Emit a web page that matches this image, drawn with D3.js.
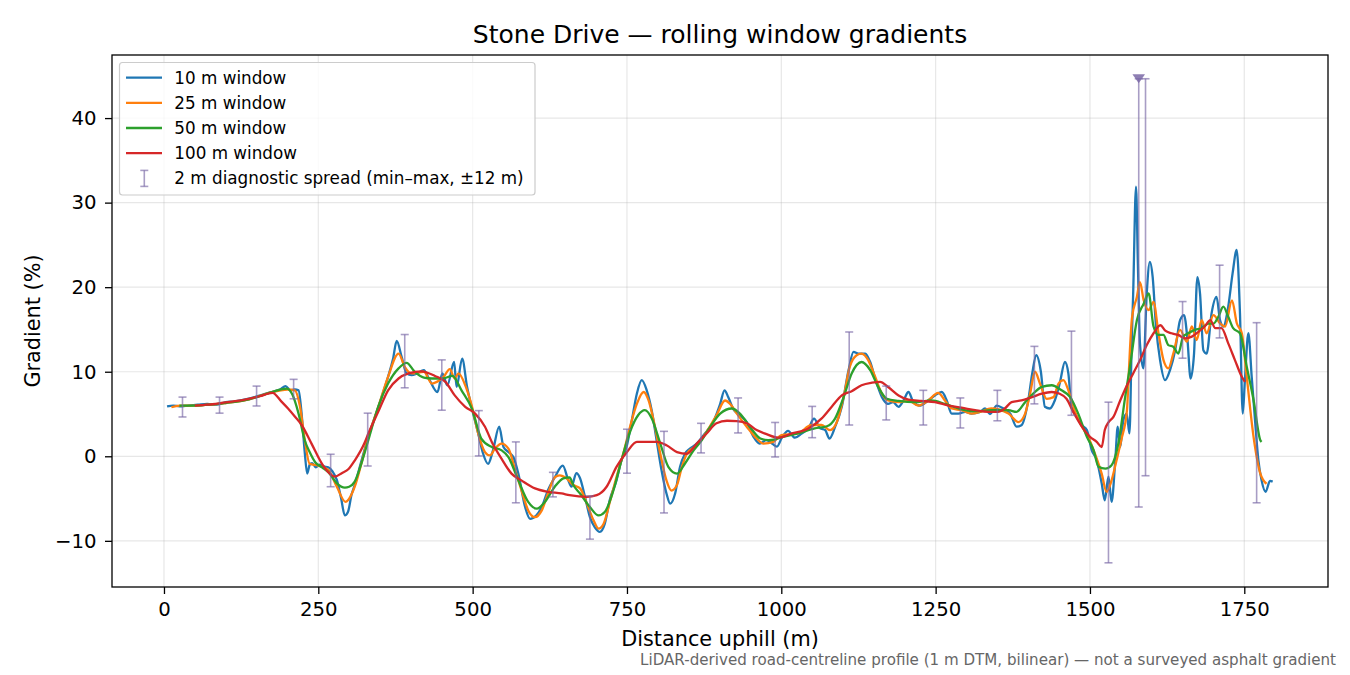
<!DOCTYPE html>
<html lang="en">
<head>
<meta charset="utf-8">
<title>Stone Drive — rolling window gradients</title>
<script src="https://cdn.jsdelivr.net/npm/d3@7"></script>
<style>
body { margin: 0; background: #fff; }
svg { display: block; font-family: "DejaVu Sans", sans-serif; }
</style>
</head>
<body>
<svg id="chart" width="1350" height="675"></svg>
<script>
// [distance (m), gradient (%)] for each rolling window
var win10 = [[5,5.9],[15,6.0],[25,5.9],[40,6.0],[55,6.1],[70,6.2],[85,6.1],[100,6.4],[115,6.5],[130,6.7],
  [147,7.0],[160,7.3],[174,7.6],[188,7.9],[197,8.3],[205,7.8],[212,7.9],[218,7.8],[223,5.0],[228,0.5],
  [232,-2.05],[236,-1.0],[240,-0.8],[246,-1.3],[252,-1.0],[259,-1.2],[266,-1.3],[273,-1.8],[280,-2.8],[287,-5.0],
  [293,-7.0],[298,-6.6],[304,-4.5],[309,-3.4],[320,-0.5],[331,2.3],[347,5.8],[363,9.4],[371,11.5],[377,13.65],
  [385,11.75],[393,9.8],[401,9.6],[410,9.8],[421,10.2],[429,9.2],[443,7.6],[451,9.8],[459,8.4],[470,11.15],
  [474,8.2],[483,11.55],[491,8.2],[499,5.6],[509,2.7],[517,0.3],[525,-0.9],[533,0.7],[543,3.5],[550,1.1],
  [558,0.5],[566,-0.1],[574,-2.05],[585,-6.0],[593,-7.4],[603,-7.0],[612,-6.0],[622,-4.0],[633,-2.5],[646,-1.1],
  [655,-2.85],[660,-3.6],[668,-2.0],[674,-2.6],[682,-4.8],[690,-7.2],[698,-8.4],[706,-8.95],[714,-8.0],[722,-5.2],
  [733,-2.85],[741,-0.5],[750,1.3],[758,4.3],[766,7.4],[774,9.0],[782,7.8],[790,5.45],[798,1.9],[806,-1.65],
  [814,-4.4],[820,-5.6],[828,-4.4],[836,-1.25],[844,0.3],[852,0.9],[863,1.5],[874,2.5],[890,4.1],[901,6.2],
  [908,7.8],[914,7.0],[922,5.6],[933,4.85],[944,4.05],[955,2.3],[965,1.5],[976,1.9],[986,1.45],[993,1.15],
  [1001,2.2],[1011,3.0],[1022,2.2],[1033,2.7],[1044,3.3],[1053,4.45],[1063,3.3],[1071,3.1],[1078,2.1],[1087,3.45],
  [1098,5.85],[1109,10.2],[1117,12.35],[1125,12.15],[1136,12.15],[1144,11.15],[1152,9.2],[1163,7.0],[1173,6.2],[1181,6.4],
  [1190,5.85],[1198,6.6],[1206,7.6],[1214,6.4],[1225,6.0],[1238,6.6],[1249,7.2],[1260,7.6],[1268,6.6],[1276,5.05],
  [1287,5.05],[1298,5.25],[1308,5.05],[1322,5.25],[1330,5.65],[1338,5.0],[1349,6.0],[1360,5.65],[1371,5.05],[1381,3.5],
  [1389,3.67],[1400,6.6],[1406.5,9.8],[1413,11.95],[1420.5,10.0],[1427,5.85],[1435,5.65],[1443,6.6],[1451,8.6],[1459.5,11.15],
  [1465,9.8],[1470,5.85],[1478.5,4.65],[1487,3.67],[1495,3.1],[1503,0.7],[1511,-0.45],[1519,-3.2],[1524,-5.2],[1530,-2.4],
  [1535,-5.4],[1541,-0.5],[1545,3.5],[1549,1.1],[1554,4.25],[1559.5,5.05],[1564,2.7],[1567.6,13.35],[1570,19.25],[1574.6,31.9],
  [1577.5,23.2],[1581,13.35],[1586.5,10.4],[1592,19.25],[1597,23.0],[1601.6,21.2],[1607,15.35],[1613.5,11.4],[1621.6,9.0],[1629.7,10.2],
  [1638,12.55],[1646,16.1],[1652.4,16.7],[1658,13.75],[1663,9.2],[1668.6,12.15],[1674,21.2],[1678.3,19.25],[1683.7,12.55],[1689,12.15],
  [1697,16.9],[1705,18.85],[1710.7,16.1],[1716,15.35],[1724,17.7],[1731,21.6],[1737.7,24.4],[1743,16.9],[1747.5,5.05],[1751,9.0],
  [1756.6,14.55],[1762,9.4],[1767.4,4.25],[1772.8,-0.45],[1778,-2.85],[1784.6,-4.2],[1791.6,-2.9],[1796,-3.0]];

var win25 = [[12,5.8],[25,6.0],[50,6.0],[75,6.1],[100,6.3],[130,6.6],[150,7.0],[175,7.6],[200,7.9],[212,7.8],
  [220,6.0],[228,2.0],[236,-0.9],[250,-1.1],[266,-1.6],[280,-3.6],[294,-5.4],[300,-5.0],[309,-3.6],[320,-0.8],
  [331,2.3],[347,5.8],[363,9.4],[380,12.15],[390,10.57],[401,9.8],[421,10.0],[434,8.6],[442,8.8],[453,9.4],
  [463,10.3],[471,9.2],[477,9.8],[489,8.2],[499,5.85],[509,2.7],[520,0.5],[528,0.1],[536,0.9],[547,1.5],
  [558,0.9],[569,-1.65],[579,-4.0],[590,-6.4],[601,-7.2],[612,-6.4],[622,-4.4],[633,-2.5],[641,-2.25],[652,-2.6],
  [663,-3.4],[674,-3.8],[685,-5.6],[696,-7.6],[704,-8.55],[712,-8.0],[723,-5.2],[733,-2.45],[744,0.3],[755,3.5],
  [766,6.2],[777,7.6],[785,6.6],[793,4.3],[804,0.3],[814,-2.85],[822,-4.05],[831,-3.4],[839,-1.25],[847,0.3],
  [863,1.3],[879,2.9],[895,4.85],[909,6.6],[917,6.2],[928,5.05],[944,3.5],[960,2.1],[971,1.5],[987,1.7],
  [1000,2.5],[1027,2.7],[1049,3.7],[1065,3.7],[1079,3.1],[1090,4.05],[1101,7.0],[1111,10.6],[1122,11.95],[1130,12.15],
  [1141,11.35],[1152,9.4],[1163,7.4],[1173,6.6],[1190,6.4],[1206,6.6],[1222,6.0],[1238,6.6],[1254,7.5],[1265,6.6],
  [1276,5.65],[1292,5.45],[1308,5.05],[1322,5.25],[1340,5.65],[1368,5.05],[1384,4.05],[1395,5.05],[1403,7.4],[1411,10.0],
  [1419,8.6],[1430,6.8],[1441,7.0],[1449,8.6],[1457,9.0],[1465,7.8],[1476,5.25],[1487,3.5],[1497,2.3],[1508,0.3],
  [1519,-2.05],[1527,-4.2],[1535,-2.85],[1543,-0.5],[1551,2.0],[1560,5.5],[1563,10.0],[1568,16.3],[1576,18.85],[1581,20.6],
  [1587,18.45],[1595,17.3],[1603,18.25],[1611,14.55],[1619,11.4],[1627,10.4],[1635,12.15],[1646,14.95],[1657,13.55],[1665,15.35],
  [1673,13.75],[1681,16.1],[1689,14.55],[1700,16.7],[1711,15.7],[1719,15.35],[1730,18.45],[1738,15.7],[1746,14.55],[1754,9.4],
  [1765,2.3],[1776,-2.05],[1786,-3.25]];

var win50 = [[25,6.0],[50,6.0],[75,6.1],[100,6.3],[130,6.6],[150,7.0],[175,7.6],[199,8.0],[208,7.3],[218,5.05],
  [228,1.9],[236,0.5],[245,-0.7],[256,-1.3],[266,-1.85],[280,-3.2],[293,-3.7],[300,-3.6],[309,-3.0],[320,-0.8],
  [331,1.9],[347,5.85],[363,8.6],[380,10.4],[393,11.05],[406,10.0],[421,9.3],[434,9.2],[451,9.2],[467,9.5],
  [482,7.8],[499,5.6],[514,2.1],[531,1.1],[547,0.7],[558,-0.1],[574,-2.85],[590,-5.4],[604,-6.2],[617,-5.4],
  [633,-3.6],[647,-2.6],[657,-2.5],[663,-3.4],[674,-4.4],[690,-6.0],[704,-7.0],[714,-6.6],[728,-4.05],[741,-0.5],
  [755,2.9],[768,4.85],[779,5.45],[790,4.5],[804,1.5],[817,-1.25],[831,-2.05],[844,-0.85],[858,0.7],[871,1.9],
  [885,3.5],[901,5.05],[920,5.65],[933,5.05],[949,3.5],[966,2.1],[979,1.9],[990,2.0],[1000,2.25],[1027,2.7],
  [1054,3.3],[1074,3.55],[1087,4.45],[1101,7.0],[1114,9.8],[1130,11.15],[1144,10.2],[1157,8.2],[1171,6.8],[1190,6.55],
  [1216,6.4],[1243,6.6],[1265,6.2],[1287,5.65],[1308,5.35],[1322,5.35],[1340,5.45],[1368,5.45],[1381,5.25],[1395,6.4],
  [1408,7.4],[1422,8.2],[1438,8.4],[1454,7.8],[1468,7.0],[1481,5.05],[1495,2.3],[1506,0.7],[1514,-1.25],[1525,-1.45],
  [1535,-1.05],[1546,1.5],[1557,7.0],[1565,10.7],[1576,16.1],[1587,18.05],[1595,19.25],[1603,15.35],[1611,14.35],[1619,14.35],
  [1627,13.15],[1635,12.95],[1643,12.15],[1651,14.15],[1659,14.55],[1670,14.95],[1681,15.15],[1692,15.7],[1700,15.7],[1708,16.5],
  [1716,17.7],[1724,16.5],[1732,15.15],[1743,14.55],[1754,10.6],[1765,6.65],[1776,1.9],[1778,1.7]];

var win100 = [[50,6.0],[70,6.1],[93,6.3],[131,6.7],[155,7.1],[176,7.5],[190,6.5],[201,5.65],[212,4.7],[223,3.7],
  [239,1.5],[256,-0.9],[265,-1.8],[277,-2.4],[288,-2.0],[299,-1.5],[309,-0.5],[325,1.6],[331,2.7],[347,5.25],
  [363,7.8],[380,9.2],[396,9.8],[417,10.05],[439,9.5],[456,8.8],[471,7.2],[488,5.85],[504,5.05],[520,3.5],
  [531,1.7],[547,-0.3],[563,-2.05],[579,-2.85],[601,-3.8],[622,-4.2],[644,-4.4],[657,-4.6],[685,-4.8],[701,-4.6],
  [717,-3.6],[733,-1.25],[750,0.5],[766,1.7],[782,1.7],[798,1.7],[814,1.3],[831,0.5],[847,0.3],[863,1.5],
  [879,2.7],[895,3.9],[912,4.2],[928,4.15],[944,3.9],[960,3.1],[975,2.65],[995,2.2],[1017,2.7],[1044,3.3],
  [1065,4.45],[1082,5.9],[1098,7.2],[1114,7.7],[1130,8.4],[1147,8.7],[1160,8.8],[1173,8.2],[1190,7.2],[1206,6.7],
  [1227,6.55],[1249,6.4],[1271,6.0],[1292,5.75],[1314,5.45],[1335,5.25],[1351,5.25],[1362,5.65],[1373,6.4],[1389,6.6],
  [1406,7.0],[1422,7.4],[1438,7.6],[1451,7.4],[1462,6.8],[1473,5.25],[1487,3.5],[1500,2.3],[1511,1.7],[1519,1.1],
  [1524,3.1],[1530,4.0],[1538,4.65],[1549,6.6],[1560,8.4],[1570,9.8],[1581,11.35],[1592,13.15],[1603,14.55],[1614,15.5],
  [1622,14.85],[1632,14.55],[1643,14.35],[1654,13.95],[1665,14.15],[1676,14.75],[1686,15.35],[1695,16.1],[1703,15.15],[1713,15.15],
  [1724,13.35],[1735,11.35],[1746,9.4],[1751,8.8]];

// 2 m diagnostic spread: position, min, max
var spreadAt = [30,90,150,210,270,330,390,450,510,570,630,690,750,810,870,930,990,1050,1110,1170,1230,1290,1350,1410,1470,1530,1579,1590,1650,1710,1770];
var spreadLo = [4.65,5.1,5.95,6.8,-3.6,-1.15,8.1,5.45,0.04,-5.5,-4.8,-9.8,-2.0,-6.7,0.4,2.76,-0.08,2.2,3.7,4.3,3.7,3.35,4.2,6.2,4.85,-12.6,-6.0,-2.3,11.6,14.0,-5.5];
var spreadHi = [7.0,7.0,8.3,9.1,0.24,5.1,14.4,11.4,5.4,1.7,-1.9,-4.7,3.2,2.95,3.9,6.9,4.0,5.9,14.7,8.3,7.8,6.9,7.8,13.0,14.8,6.4,44.65,44.65,18.3,22.6,15.8];
var peakAt = [1579];
var peakVal = [44.65];

var seriesNames = ["10 m window", "25 m window", "50 m window", "100 m window"];
var seriesColors = ["#1f77b4", "#ff7f0e", "#2ca02c", "#d62728"];
var xTicks = [0, 250, 500, 750, 1000, 1250, 1500, 1750];
var yTicks = [-10, 0, 10, 20, 30, 40];

var svg = d3.select("#chart");
var plotL = 112, plotR = 1328, plotT = 55, plotB = 587;

var x = d3.scaleLinear().domain([-84.2, 1885.6]).range([plotL, plotR]);
var y = d3.scaleLinear().domain([-15.46, 47.46]).range([plotB, plotT]);

svg.append("rect").attr("width", 1350).attr("height", 675).attr("fill", "#fff");

svg.append("clipPath").attr("id", "plotclip")
  .append("rect").attr("x", plotL).attr("y", plotT)
  .attr("width", plotR - plotL).attr("height", plotB - plotT);

// grid
var grid = svg.append("g").attr("stroke", "#b0b0b0").attr("stroke-opacity", 0.3).attr("stroke-width", 1.2);
grid.selectAll("line.gx").data(xTicks).enter().append("line")
  .attr("x1", function(d) { return x(d); }).attr("x2", function(d) { return x(d); })
  .attr("y1", plotT).attr("y2", plotB);
grid.selectAll("line.gy").data(yTicks).enter().append("line")
  .attr("x1", plotL).attr("x2", plotR)
  .attr("y1", function(d) { return y(d); }).attr("y2", function(d) { return y(d); });

// lines
var line = d3.line()
  .x(function(d) { return x(d[0]); })
  .y(function(d) { return y(d[1]); })
  .curve(d3.curveMonotoneX);

var plot = svg.append("g").attr("clip-path", "url(#plotclip)");
[win10, win25, win50, win100].forEach(function(s, i) {
  plot.append("path")
    .datum(s)
    .attr("fill", "none")
    .attr("stroke", seriesColors[i])
    .attr("stroke-width", 2.3)
    .attr("stroke-linejoin", "round")
    .attr("d", line);
});

// spread bars
var barColor = "#7a68a6";
var bars = plot.append("g").attr("stroke", barColor).attr("stroke-opacity", 0.65).attr("stroke-width", 1.6);
spreadAt.forEach(function(d, i) {
  var cx = x(d);
  bars.append("line").attr("x1", cx).attr("x2", cx).attr("y1", y(spreadLo[i])).attr("y2", y(spreadHi[i]));
  bars.append("line").attr("x1", cx - 4).attr("x2", cx + 4).attr("y1", y(spreadLo[i])).attr("y2", y(spreadLo[i]));
  bars.append("line").attr("x1", cx - 4).attr("x2", cx + 4).attr("y1", y(spreadHi[i])).attr("y2", y(spreadHi[i]));
});

// clipped-peak marker
peakAt.forEach(function(d, i) {
  var px = x(d), py = y(peakVal[i]);
  plot.append("path")
    .attr("d", "M" + (px - 6.3) + "," + (py - 4.6) + "L" + (px + 6.3) + "," + (py - 4.6) + "L" + px + "," + (py + 4.6) + "Z")
    .attr("fill", barColor).attr("fill-opacity", 0.85);
});

// axes
var xAxis = svg.append("g").attr("transform", "translate(0," + plotB + ")")
  .call(d3.axisBottom(x).tickValues(xTicks).tickSize(7).tickPadding(8).tickFormat(d3.format("d")));
var yAxis = svg.append("g").attr("transform", "translate(" + plotL + ",0)")
  .call(d3.axisLeft(y).tickValues(yTicks).tickSize(7).tickPadding(8.5)
    .tickFormat(function(d) { return d < 0 ? "\u2212" + Math.abs(d) : String(d); }));
[xAxis, yAxis].forEach(function(a) {
  a.select(".domain").remove();
  a.selectAll(".tick line").attr("stroke", "#000").attr("stroke-width", 1.3);
  a.selectAll(".tick text").attr("fill", "#000").style("font-size", "19.7px").style("font-family", "DejaVu Sans");
});

svg.append("rect").attr("x", plotL).attr("y", plotT)
  .attr("width", plotR - plotL).attr("height", plotB - plotT)
  .attr("fill", "none").attr("stroke", "#000").attr("stroke-width", 1.3);

// legend
var lg = svg.append("g");
lg.append("rect").attr("x", 119.5).attr("y", 62.5).attr("width", 415.5).attr("height", 132.5)
  .attr("rx", 3).attr("fill", "#fff").attr("fill-opacity", 0.8).attr("stroke", "#cccccc").attr("stroke-width", 1.2);
seriesNames.forEach(function(name, i) {
  var cy = 77.6 + i * 25.2;
  lg.append("line").attr("x1", 126).attr("x2", 162).attr("y1", cy).attr("y2", cy)
    .attr("stroke", seriesColors[i]).attr("stroke-width", 2.3);
  lg.append("text").attr("x", 174.3).attr("y", cy + 6).style("font-size", "16.8px").text(name);
});
var ey = 77.6 + 4 * 25.2;
var eb = lg.append("g").attr("stroke", barColor).attr("stroke-opacity", 0.65).attr("stroke-width", 1.6);
eb.append("line").attr("x1", 144.3).attr("x2", 144.3).attr("y1", ey - 8).attr("y2", ey + 8);
eb.append("line").attr("x1", 140.3).attr("x2", 148.3).attr("y1", ey - 8).attr("y2", ey - 8);
eb.append("line").attr("x1", 140.3).attr("x2", 148.3).attr("y1", ey + 8).attr("y2", ey + 8);
lg.append("text").attr("x", 174.3).attr("y", ey + 6).style("font-size", "16.8px")
  .text("2 m diagnostic spread (min\u2013max, \u00b112 m)");

// titles
svg.append("text").attr("x", (plotL + plotR) / 2).attr("y", 42.5).attr("text-anchor", "middle")
  .style("font-size", "25px").text("Stone Drive \u2014 rolling window gradients");
svg.append("text").attr("x", (plotL + plotR) / 2).attr("y", 646).attr("text-anchor", "middle")
  .style("font-size", "20.8px").text("Distance uphill (m)");
svg.append("text").attr("transform", "translate(40," + ((plotT + plotB) / 2) + ") rotate(-90)")
  .attr("text-anchor", "middle").style("font-size", "20.8px").text("Gradient (%)");
svg.append("text").attr("x", 1336).attr("y", 665).attr("text-anchor", "end")
  .attr("fill", "#666").style("font-size", "15.1px")
  .text("LiDAR-derived road-centreline profile (1 m DTM, bilinear) \u2014 not a surveyed asphalt gradient");
</script>
</body>
</html>
